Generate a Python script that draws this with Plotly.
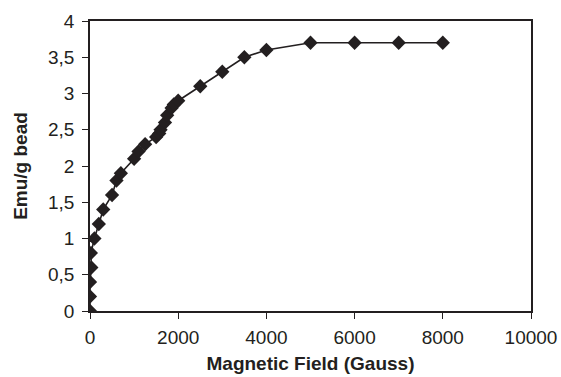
import plotly.graph_objects as go

field = [0, 0, 0, 30, 20, 100, 200, 300, 500, 600, 700, 1000, 1100, 1250, 1500, 1570, 1600,
         1700, 1750, 1850, 1900, 2000, 2500, 3000, 3500, 4000, 5000, 6000, 7000, 8000]
emu = [0, 0.2, 0.4, 0.6, 0.8, 1.0, 1.2, 1.4, 1.6, 1.8, 1.9, 2.1, 2.2, 2.3, 2.4, 2.45, 2.5,
       2.6, 2.7, 2.8, 2.85, 2.9, 3.1, 3.3, 3.5, 3.6, 3.7, 3.7, 3.7, 3.7]

x_ticks = [0, 2000, 4000, 6000, 8000, 10000]
x_labels = ["0", "2000", "4000", "6000", "8000", "10000"]
y_ticks = [0, 0.5, 1, 1.5, 2, 2.5, 3, 3.5, 4]
y_labels = ["0", "0,5", "1", "1,5", "2", "2,5", "3", "3,5", "4"]

ink = "#231f20"
fnt = "Liberation Sans, Arial"
fig = go.Figure()
fig.add_trace(go.Scatter(
    x=field, y=emu, mode="lines+markers",
    line=dict(color=ink, width=1.6),
    marker=dict(symbol="diamond", size=11, color=ink),
    showlegend=False,
))

axis_common = dict(
    showgrid=False, zeroline=False, showline=True, linecolor=ink, linewidth=1.5,
    mirror=True, ticks="outside", ticklen=6, tickcolor=ink, tickwidth=1.2,
    tickfont=dict(family=fnt, size=19, color=ink), automargin=False,
)

fig.update_layout(
    width=561, height=377,
    margin=dict(l=90, r=30, t=21, b=66),
    paper_bgcolor="white", plot_bgcolor="white",
    xaxis=dict(range=[0, 10000], tickvals=x_ticks, ticktext=x_labels,
               ticklabelstandoff=2,
               title=dict(text="<b>Magnetic Field (Gauss)</b>", standoff=10,
                          font=dict(family=fnt, size=19, color=ink)),
               **axis_common),
    yaxis=dict(range=[0, 4], tickvals=y_ticks, ticktext=y_labels,
               ticklabelstandoff=4,
               title=dict(text="<b>Emu/g bead</b>", standoff=15,
                          font=dict(family=fnt, size=19, color=ink)),
               **axis_common),
)

fig.write_html("out.html")
